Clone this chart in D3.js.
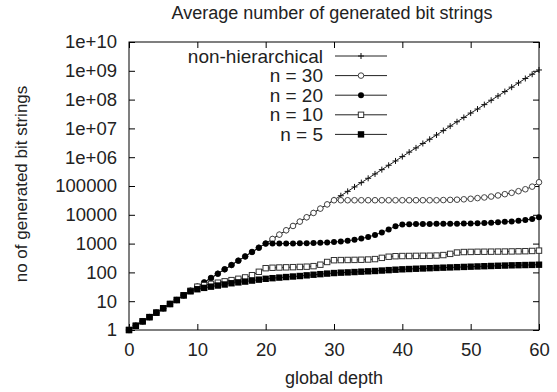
<!DOCTYPE html>
<html>
<head>
<meta charset="utf-8">
<script src="https://cdn.jsdelivr.net/npm/d3@7"></script>
<style>
  body { margin: 0; background: #fff; }
  svg { display: block; font-family: "Liberation Sans", Arial, Helvetica, sans-serif; }
  .axis path { display: none; }
  .axis line { stroke: #000; }
  .axis text { font-size: 18.5px; fill: #222; }
</style>
</head>
<body>
<div class="chart"></div>
<script>
// data, x = global depth 0..60
const depth = d3.range(0, 61);

const nonHier = [1, 1.4, 2, 2.8, 4, 5.7, 8, 11, 16, 23, 32, 45, 64, 90, 128, 180, 256, 360, 512, 720,
  1000, 1450, 2050, 2900, 4100, 5800, 8200, 11600, 16400, 23000, 33000, 46000, 65000, 93000, 131000,
  185000, 262000, 370000, 524000, 740000, 1.05e6, 1.5e6, 2.1e6, 3e6, 4.2e6, 5.9e6, 8.4e6, 1.2e7,
  1.7e7, 2.4e7, 3.4e7, 4.7e7, 6.7e7, 9.5e7, 1.34e8, 1.9e8, 2.7e8, 3.8e8, 5.4e8, 7.6e8, 1.07e9];

const n30 = [1, 1.4, 2, 2.8, 4, 5.7, 8, 11, 16, 23, 32, 45, 64, 90, 128, 180, 256, 360, 512, 720,
  1000, 1450, 2050, 2900, 4100, 5800, 8200, 11600, 16400, 23000, 32000, 32000, 32000, 32000, 32000,
  32000, 32000, 32000, 32000, 32000, 32000, 32000, 32000, 32000, 32000, 32000, 32500, 33000, 33500,
  34500, 36000, 38000, 40000, 43000, 47000, 52000, 58000, 66000, 77000, 95000, 135000];

const n20 = [1, 1.4, 2, 2.8, 4, 5.7, 8, 11, 16, 23, 32, 45, 64, 90, 128, 180, 256, 360, 512, 720,
  1000, 1000, 1000, 1010, 1010, 1020, 1030, 1040, 1060, 1090, 1130, 1180, 1250, 1350, 1500, 1700,
  2000, 2450, 3100, 4000, 4600, 4700, 4750, 4800, 4800, 4850, 4850, 4900, 4900, 4950, 5000, 5050,
  5150, 5300, 5500, 5700, 5900, 6200, 6600, 7200, 8200];

const n10 = [1, 1.4, 2, 2.8, 4, 5.7, 8, 11, 16, 23, 32, 36, 40, 44, 49, 54, 60, 67, 80, 105,
  140, 145, 148, 150, 152, 155, 158, 165, 185, 230, 265, 268, 270, 272, 275, 280, 290, 320, 350,
  365, 370, 372, 375, 378, 380, 385, 400, 440, 490, 510, 515, 520, 522, 525, 528, 530, 535, 540,
  545, 555, 570];

const n5 = [1, 1.4, 2, 2.8, 4, 5.7, 8, 11, 16, 22, 26, 29, 32, 35, 38, 42, 45, 48, 52, 56,
  60, 63, 66, 69, 72, 75, 79, 83, 87, 91, 95, 98, 100, 103, 106, 109, 112, 116, 120, 124, 128,
  131, 134, 137, 140, 143, 146, 149, 152, 155, 158, 161, 164, 167, 170, 173, 176, 178, 180, 182, 185];

const seriesNames = ["non-hierarchical", "n = 30", "n = 20", "n = 10", "n = 5"];
const seriesValues = [nonHier, n30, n20, n10, n5];
const markerTypes = ["plus", "openCircle", "circle", "openSquare", "square"];

const xTicks = [0, 10, 20, 30, 40, 50, 60];
const yTicks = [1, 10, 100, 1000, 10000, 100000, 1e6, 1e7, 1e8, 1e9, 1e10];
const yTickLabels = ["1", "10", "100", "1000", "10000", "100000", "1e+06", "1e+07", "1e+08", "1e+09", "1e+10"];

const width = 557, height = 392;
const margin = {top: 42, right: 18, bottom: 62, left: 129};
const plotW = width - margin.left - margin.right;
const plotH = height - margin.top - margin.bottom;

const svg = d3.select(".chart").append("svg")
  .attr("width", width)
  .attr("height", height);

const x = d3.scaleLinear().domain([0, 60]).range([0, plotW]);
const y = d3.scaleLog().domain([1, 1e10]).range([plotH, 0]);

const g = svg.append("g")
  .attr("transform", `translate(${margin.left},${margin.top})`);

// axes, ticks point inwards like gnuplot
g.append("g").attr("class", "axis")
  .attr("transform", `translate(0,${plotH})`)
  .call(d3.axisBottom(x).tickValues(xTicks).tickSize(-6).tickPadding(13));

g.append("g").attr("class", "axis")
  .call(d3.axisTop(x).tickValues(xTicks).tickSize(-6).tickFormat(""));

g.append("g").attr("class", "axis")
  .call(d3.axisLeft(y).tickValues(yTicks).tickSize(-6).tickPadding(12)
    .tickFormat((d, i) => yTickLabels[i]));

g.append("g").attr("class", "axis")
  .attr("transform", `translate(${plotW},0)`)
  .call(d3.axisRight(y).tickValues(yTicks).tickSize(-6).tickFormat(""));

g.append("rect")
  .attr("width", plotW)
  .attr("height", plotH)
  .attr("fill", "none")
  .attr("stroke", "#000")
  .attr("stroke-width", 1);

// marker drawing
function drawMarker(sel, type) {
  if (type === "plus") {
    sel.append("path").attr("d", "M-3,0H3M0,-3V3")
      .attr("stroke", "#111").attr("stroke-width", 1).attr("fill", "none");
  } else if (type === "openCircle") {
    sel.append("circle").attr("r", 2.8)
      .attr("fill", "#fff").attr("stroke", "#444").attr("stroke-width", 1);
  } else if (type === "circle") {
    sel.append("circle").attr("r", 3).attr("fill", "#000");
  } else if (type === "openSquare") {
    sel.append("rect").attr("x", -2.7).attr("y", -2.7).attr("width", 5.4).attr("height", 5.4)
      .attr("fill", "#fff").attr("stroke", "#333").attr("stroke-width", 1);
  } else {
    sel.append("rect").attr("x", -3.2).attr("y", -3.2).attr("width", 6.4).attr("height", 6.4)
      .attr("fill", "#000");
  }
}

const line = d3.line()
  .x((d, i) => x(depth[i]))
  .y(d => y(d));

seriesValues.forEach(function (vals, k) {
  const sg = g.append("g");
  sg.append("path")
    .attr("d", line(vals))
    .attr("fill", "none")
    .attr("stroke", "#222")
    .attr("stroke-width", 1);
  sg.selectAll("g.pt")
    .data(vals)
    .enter().append("g")
    .attr("class", "pt")
    .attr("transform", (d, i) => `translate(${x(depth[i])},${y(d)})`)
    .each(function () { drawMarker(d3.select(this), markerTypes[k]); });
});

// legend
const legend = svg.append("g");
seriesNames.forEach(function (name, k) {
  const ly = 56 + k * 19.6;
  legend.append("text")
    .attr("x", 323).attr("y", ly + 6.5)
    .attr("text-anchor", "end")
    .style("font-size", "19px").style("fill", "#222")
    .text(name);
  legend.append("line")
    .attr("x1", 335).attr("x2", 387).attr("y1", ly).attr("y2", ly)
    .attr("stroke", "#222").attr("stroke-width", 1);
  drawMarker(legend.append("g").attr("transform", `translate(361,${ly})`), markerTypes[k]);
});

// titles
svg.append("text")
  .attr("x", 332).attr("y", 19)
  .attr("text-anchor", "middle")
  .style("font-size", "18px").style("fill", "#222")
  .text("Average number of generated bit strings");

svg.append("text")
  .attr("x", margin.left + plotW / 2).attr("y", 384)
  .attr("text-anchor", "middle")
  .style("font-size", "18px").style("fill", "#222")
  .text("global depth");

svg.append("text")
  .attr("transform", "translate(27,184) rotate(-90)")
  .attr("text-anchor", "middle")
  .style("font-size", "17px").style("fill", "#222")
  .text("no of generated bit strings");
</script>
</body>
</html>
